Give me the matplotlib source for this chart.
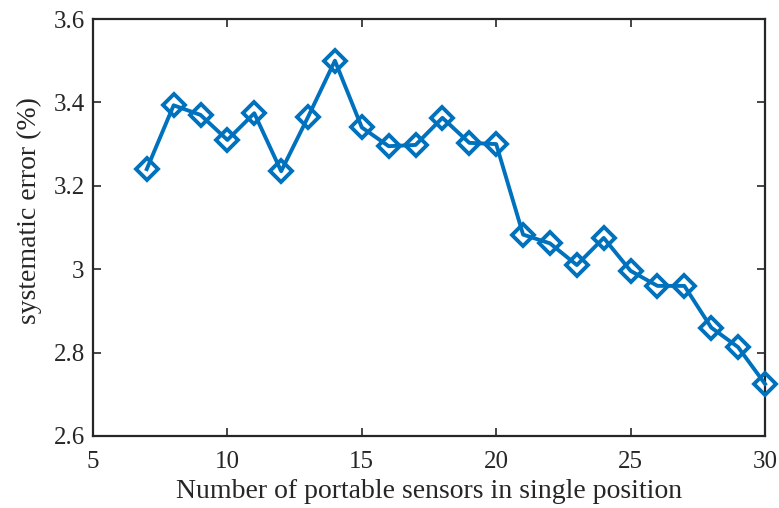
import matplotlib
matplotlib.use("Agg")
import matplotlib.pyplot as plt

sensors = [7, 8, 9, 10, 11, 12, 13, 14, 15, 16, 17, 18, 19, 20, 21, 22, 23, 24, 25, 26, 27, 28, 29, 30]
sys_error = [3.24, 3.393, 3.37, 3.31, 3.374, 3.235, 3.365, 3.50, 3.34, 3.295, 3.298, 3.363, 3.303, 3.30,
             3.083, 3.062, 3.01, 3.075, 2.996, 2.96, 2.96, 2.86, 2.813, 2.725]
xticks = [5, 10, 15, 20, 25, 30]
yticks = [2.6, 2.8, 3.0, 3.2, 3.4, 3.6]
yticklabels = ["2.6", "2.8", "3", "3.2", "3.4", "3.6"]

plt.rcParams['font.family'] = ['Liberation Serif', 'DejaVu Serif']

fig = plt.figure(figsize=(7.79, 5.08), dpi=100)
ax = fig.add_axes([93 / 779, 72 / 508, 672 / 779, 417 / 508])

ax.plot(sensors, sys_error, color='#0072BD', linewidth=2.8, marker='D',
        markersize=11.5, markerfacecolor='none', markeredgecolor='#0072BD',
        markeredgewidth=2.8, clip_on=False, zorder=3)

ax.set_xlim(5, 30)
ax.set_ylim(2.6, 3.6)
ax.set_xticks(xticks)
ax.set_yticks(yticks)
ax.set_yticklabels(yticklabels)
ax.tick_params(direction='in', length=6, width=1.2, labelsize=18, colors='#262626',
               top=True, right=True)
ax.tick_params(axis='x', pad=11)
ax.tick_params(axis='y', pad=6)
for s in ax.spines.values():
    s.set_linewidth(1.6)
    s.set_color('#262626')

ax.set_xlabel('Number of portable sensors in single position', fontsize=20, color='#262626', labelpad=4)
ax.set_ylabel('systematic error (%)', fontsize=20, color='#262626')
ax.yaxis.set_label_coords(-0.076, 0.54)

fig.savefig('out.png', dpi=100)
